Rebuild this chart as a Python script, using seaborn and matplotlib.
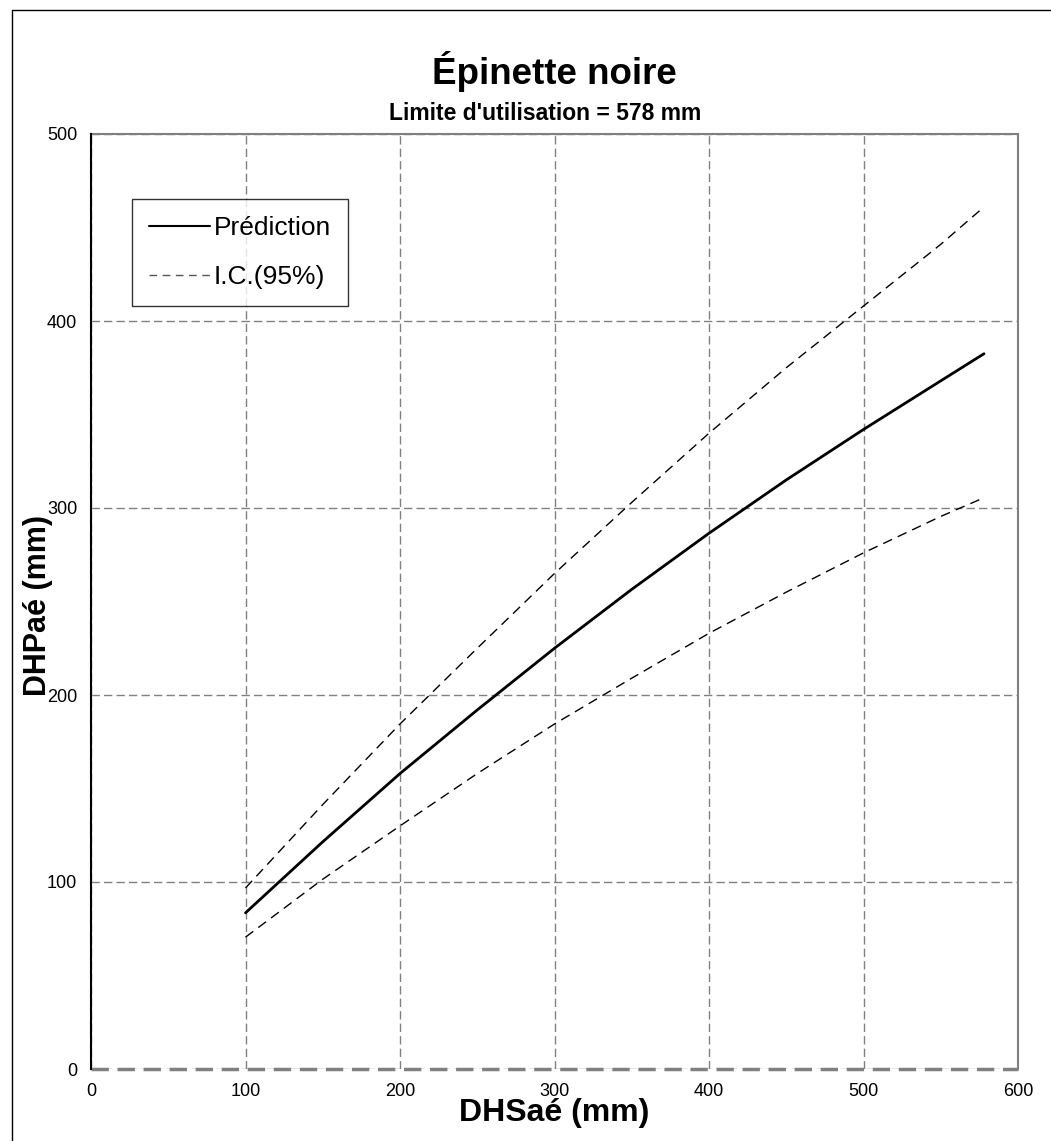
import matplotlib
matplotlib.use("agg")
import matplotlib.pyplot as plt
from matplotlib.lines import Line2D
import seaborn as sns
import pandas as pd

# values
dhs = [100, 150, 200, 250, 300, 350, 400, 450, 500, 550, 578]
pred = [83.5, 121.5, 158, 192, 225, 256.5, 286.5, 315, 342, 368, 382.5]
ic_haut = [96.8, 141.4, 184.5, 225, 265, 303, 340, 375, 408, 441, 461]
ic_bas = [70.5, 101.5, 130, 158, 184.5, 209, 233, 255, 276, 295.5, 305.5]

x_ticks = [0, 100, 200, 300, 400, 500, 600]
y_ticks = [0, 100, 200, 300, 400, 500]

sns.set_style("white")
plt.rcParams['font.family'] = ['Liberation Sans', 'DejaVu Sans']
plt.rcParams['text.color'] = 'black'
plt.rcParams['axes.labelcolor'] = 'black'

df = pd.DataFrame({"DHS": dhs, "pred": pred, "haut": ic_haut, "bas": ic_bas})

fig = plt.figure(figsize=(10.51, 11.41), dpi=100)
ax = fig.add_axes([91 / 1051, 1 - 1069 / 1141, (1018 - 91) / 1051, (1069 - 134) / 1141])

sns.lineplot(data=df, x="DHS", y="pred", ax=ax, color="black", lw=2)
sns.lineplot(data=df, x="DHS", y="haut", ax=ax, color="black", lw=1)
sns.lineplot(data=df, x="DHS", y="bas", ax=ax, color="black", lw=1)
ax.lines[1].set_dashes((7, 4.5))
ax.lines[2].set_dashes((7, 4.5))

ax.set_xlim(0, 600)
ax.set_ylim(0, 500)
ax.set_xticks(x_ticks)
ax.set_yticks(y_ticks)
ax.tick_params(axis="both", labelsize=13, length=5, width=1, color="#808080",
               labelcolor="black", direction="out", pad=5)
ax.tick_params(axis="y", color="black")

ax.grid(True, color="#808080", lw=1, linestyle=(0, (6, 3)))
ax.set_axisbelow(True)
ax.axhline(0, color="#808080", lw=2.5, linestyle=(0, (5, 2.5)), clip_on=False, zorder=1)
for side in ["top", "right"]:
    ax.spines[side].set_color("#808080")
    ax.spines[side].set_linewidth(1.5)
ax.spines["bottom"].set_visible(False)
ax.spines["left"].set_color("black")
ax.spines["left"].set_linewidth(1.5)
ax.spines["left"].set_zorder(3)

ax.set_xlabel("DHSaé (mm)", fontsize=23, fontweight="bold")
ax.set_ylabel("DHPaé (mm)", fontsize=22, fontweight="bold")
ax.xaxis.set_label_coords(0.5, (1069 - 1098) / 935)
ax.yaxis.set_label_coords((38 - 91) / 927, (1069 - 606) / 935)
ax.yaxis.label.set_va("center")
ax.xaxis.label.set_va("top")

fig.text(554 / 1051, 1 - 72 / 1141, "Épinette noire", fontsize=26.5, fontweight="bold",
         ha="center", va="center")
fig.text(545 / 1051, 1 - 114 / 1141, "Limite d'utilisation = 578 mm", fontsize=16.5,
         fontweight="bold", ha="center", va="center")

handles = [Line2D([], [], color="black", lw=1.5),
           Line2D([], [], color="#555555", lw=1, dashes=(5.5, 4))]
leg = ax.legend(handles, ["Prédiction", "I.C.(95%)"], loc="upper left",
                bbox_to_anchor=(41 / 927, 1 - 65 / 935), fontsize=19, frameon=True,
                fancybox=False, edgecolor="black", handlelength=2.3, handletextpad=0.15,
                borderpad=0.65, labelspacing=0.95, borderaxespad=0)
leg.get_frame().set_linewidth(1)

# outer chart border (only left and top visible)
fig.add_artist(Line2D([12 / 1051, 12 / 1051], [0, 1 - 10 / 1141], color="black", lw=1,
                      transform=fig.transFigure))
fig.add_artist(Line2D([12 / 1051, 1], [1 - 10 / 1141, 1 - 10 / 1141], color="black", lw=1,
                      transform=fig.transFigure))

fig.savefig("out.png", dpi=100)
